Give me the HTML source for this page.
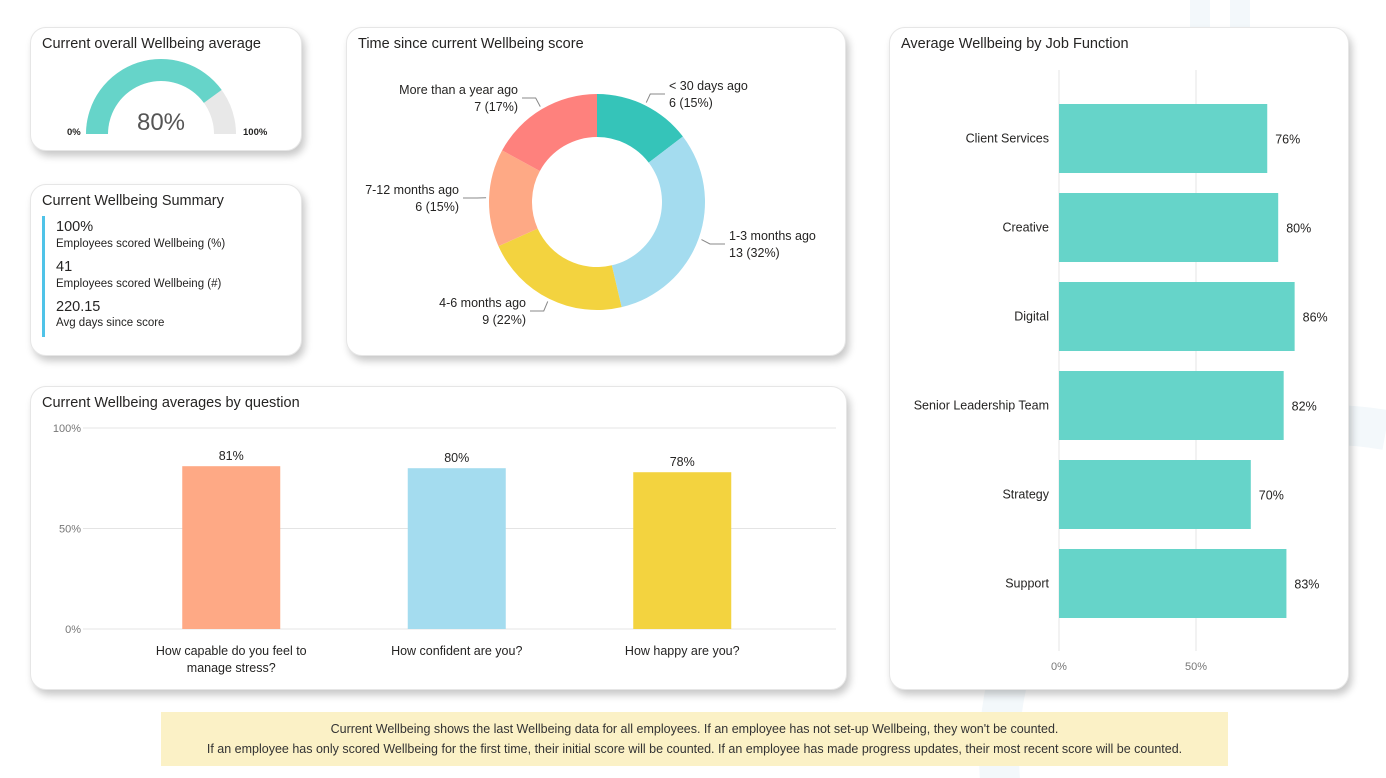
<!DOCTYPE html>
<html><head><meta charset="utf-8"><style>
body{margin:0;width:1386px;height:778px;background:#fff;font-family:"Segoe UI","Liberation Sans",sans-serif;position:relative;overflow:hidden;color:#252423}
.card{position:absolute;background:#fff;border:1px solid #e6e6e6;border-radius:16px;box-shadow:3px 5px 8px rgba(0,0,0,0.22)}
.title{position:absolute;left:11px;top:8px;font-size:14.5px;color:#252423}
svg{position:absolute;left:0;top:0}
</style></head><body>
<svg width="1386" height="778">
<path d="M1000 780 A330 330 0 0 1 1386 430" fill="none" stroke="#f3f8fb" stroke-width="40"/>
<path d="M1200 0 L1200 60 M1240 0 L1240 60" stroke="#f3f8fb" stroke-width="20"/>
</svg>

<div class="card" style="left:30px;top:27px;width:270px;height:122px">
<div class="title">Current overall Wellbeing average</div>
<svg width="270" height="122" id="gauge"></svg>
</div>

<div class="card" style="left:30px;top:184px;width:270px;height:170px">
<div class="title">Current Wellbeing Summary</div>
<div style="position:absolute;left:11px;top:31px;width:3px;height:121px;background:#4fc3e8"></div>
<div style="position:absolute;left:25px;top:33px;font-size:12px;line-height:1.3">
<div style="font-size:14.5px">100%</div>
<div style="font-size:11.5px;margin-bottom:6px">Employees scored Wellbeing (%)</div>
<div style="font-size:14.5px">41</div>
<div style="font-size:11.5px;margin-bottom:6px">Employees scored Wellbeing (#)</div>
<div style="font-size:14.5px">220.15</div>
<div style="font-size:11.5px">Avg days since score</div>
</div>
</div>

<div class="card" style="left:346px;top:27px;width:498px;height:327px">
<div class="title">Time since current Wellbeing score</div>
<svg width="498" height="327" id="donut"></svg>
</div>

<div class="card" style="left:30px;top:386px;width:815px;height:302px">
<div class="title">Current Wellbeing averages by question</div>
<svg width="815" height="302" id="qbar"></svg>
</div>

<div class="card" style="left:889px;top:27px;width:458px;height:661px">
<div class="title">Average Wellbeing by Job Function</div>
<svg width="458" height="661" id="jbar"></svg>
</div>

<div style="position:absolute;left:161px;top:712px;width:1067px;height:54px;background:#fbf1c6;font-size:12.5px;text-align:center;line-height:20px;padding-top:7px;box-sizing:border-box;color:#333">
Current Wellbeing shows the last Wellbeing data for all employees. If an employee has not set-up Wellbeing, they won't be counted.<br>
If an employee has only scored Wellbeing for the first time, their initial score will be counted. If an employee has made progress updates, their most recent score will be counted.</div>

<script>
const NS="http://www.w3.org/2000/svg";
function mk(p,t,a){const e=document.createElementNS(NS,t);for(const k in a)e.setAttribute(k,a[k]);p.appendChild(e);return e;}
function txt(p,x,y,s,a){const e=mk(p,'text',Object.assign({x:x,y:y,'font-family':'Segoe UI, Liberation Sans, sans-serif','font-size':12.5,fill:'#252423'},a||{}));e.textContent=s;return e;}

// gauge
const gaugeValue=80, gaugeMax=100;
(function(){
const g=document.getElementById('gauge');const cx=130,cy=106,R=75,r=53;
function arc(a0,a1){const p=(a,rr)=>[cx+rr*Math.cos(a),cy-rr*Math.sin(a)];
const [x0,y0]=p(a0,R),[x1,y1]=p(a1,R),[x2,y2]=p(a1,r),[x3,y3]=p(a0,r);
return `M${x0} ${y0} A${R} ${R} 0 0 1 ${x1} ${y1} L${x2} ${y2} A${r} ${r} 0 0 0 ${x3} ${y3}Z`;}
const split=Math.PI*(1-gaugeValue/gaugeMax);
let e=mk(g,'path',{d:arc(Math.PI,0),fill:'#e8e8e8'});


e=mk(g,'path',{d:arc(Math.PI,split),fill:'#66d4c9'});


e=txt(g,cx,102,gaugeValue+'%',{'font-size':24,'text-anchor':'middle',fill:'#555'});


txt(g,36,107,'0%',{'font-size':9.5,'font-weight':'bold'});
txt(g,212,107,'100%',{'font-size':9.5,'font-weight':'bold'});
})();

// donut
const donutCats=['< 30 days ago','1-3 months ago','4-6 months ago','7-12 months ago','More than a year ago'];
const donutVals=[6,13,9,6,7];
const donutPcts=['15%','32%','22%','15%','17%'];
const donutColors=['#35c4b9','#a4dcef','#f3d33f','#fea985','#fe817d'];
(function(){
const g=document.getElementById('donut');const cx=250,cy=174,R=108,r=65;
const tot=donutVals.reduce((a,b)=>a+b,0);let a=0;
const lab=[[322,62,'start'],[382,212,'start'],[179,279,'end'],[112,166,'end'],[171,66,'end']];
donutVals.forEach((v,i)=>{const a0=a,a1=a+v/tot*2*Math.PI;a=a1;
const p=(t,rr)=>[cx+rr*Math.sin(t),cy-rr*Math.cos(t)];
const [x0,y0]=p(a0,R),[x1,y1]=p(a1,R),[x2,y2]=p(a1,r),[x3,y3]=p(a0,r);const lg=a1-a0>Math.PI?1:0;
const e=mk(g,'path',{d:`M${x0} ${y0} A${R} ${R} 0 ${lg} 1 ${x1} ${y1} L${x2} ${y2} A${r} ${r} 0 ${lg} 0 ${x3} ${y3}Z`,fill:donutColors[i]});


const m=(a0+a1)/2;const [lx,ly]=p(m,R+3);const [ex,ey]=p(m,R+12);
const L=lab[i];const hx=L[2]=='start'?L[0]-4:L[0]+4;
mk(g,'polyline',{points:`${lx},${ly} ${ex},${L[1]+4} ${hx},${L[1]+4}`,fill:'none',stroke:'#888','stroke-width':1});
let t=txt(g,L[0],L[1],donutCats[i],{'text-anchor':L[2]});


txt(g,L[0],L[1]+17,donutVals[i]+' ('+donutPcts[i]+')',{'text-anchor':L[2]});
});
})();

// question bars
const qCats=[['How capable do you feel to','manage stress?'],['How confident are you?'],['How happy are you?']];
const qVals=[81,80,78];
const qColors=['#fea985','#a4dcef','#f3d33f'];
const qTicks=[0,50,100];
(function(){
const g=document.getElementById('qbar');const y0=242,y1=41,xl=52,xr=805;
const Y=v=>y0-(y0-y1)*v/100;
qTicks.forEach(t=>{mk(g,'line',{x1:xl,x2:xr,y1:Y(t),y2:Y(t),stroke:'#e4e4e4'});
txt(g,xl-2,Y(t)+4,t+'%',{'font-size':11,fill:'#777','text-anchor':'end'});});
const bw=98,step=225.5;
qVals.forEach((v,i)=>{const cx=87.5+step*(i+0.5);
const e=mk(g,'rect',{x:cx-bw/2,y:Y(v),width:bw,height:y0-Y(v),fill:qColors[i]});


txt(g,cx,Y(v)-6,v+'%',{'text-anchor':'middle'});
qCats[i].forEach((s,j)=>txt(g,cx,268+j*17,s,{'text-anchor':'middle'}));
});
})();

// job bars
const jCats=['Client Services','Creative','Digital','Senior Leadership Team','Strategy','Support'];
const jVals=[76,80,86,82,70,83];
const jTicks=[0,50];
(function(){
const g=document.getElementById('jbar');const x0=169,sc=274/100,top=42,step=89;
jTicks.forEach(t=>{const x=x0+t*sc;mk(g,'line',{x1:x,x2:x,y1:top,y2:623,stroke:'#e4e4e4'});
txt(g,x,642,t+'%',{'font-size':11,fill:'#777','text-anchor':'middle'});});
jVals.forEach((v,i)=>{const cy=top+step*(i+0.5)+24;
const e=mk(g,'rect',{x:x0,y:cy-34.5,width:v*sc,height:69,fill:'#66d4c9'});


txt(g,x0-10,cy+4,jCats[i],{'text-anchor':'end'});
txt(g,x0+v*sc+8,cy+5,v+'%');
});
})();
</script>
</body></html>
